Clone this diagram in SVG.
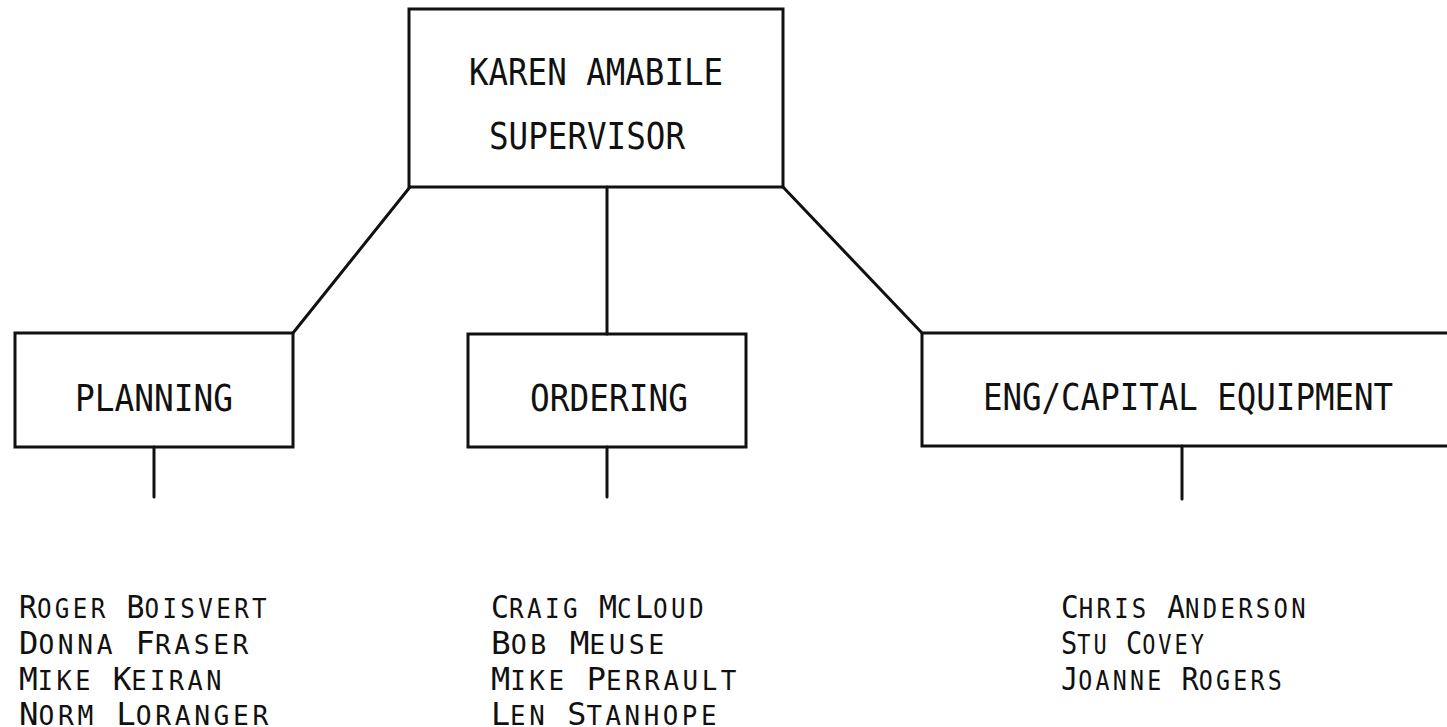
<svg xmlns="http://www.w3.org/2000/svg" width="1447" height="727" viewBox="0 0 1447 727">
<style>
  .bg { fill: #ffffff; }
  .box { fill: none; stroke: #111; stroke-width: 3; }
  .conn line { stroke: #111; stroke-width: 3; stroke-linecap: round; }
  .t { font-family: "DejaVu Sans Mono", "Liberation Mono", monospace; font-size: 38px; fill: #111; }
  .n { font-family: "DejaVu Sans Mono", "Liberation Mono", monospace; font-size: 32px; fill: #111; }
  .s { font-size: 26px; letter-spacing: 3.6px; }
</style>
<rect class="bg" x="0" y="0" width="1447" height="727"/>
<g id="connectors" class="conn">
  <line x1="410" y1="187" x2="293" y2="333"/>
  <line x1="607" y1="187" x2="607" y2="334"/>
  <line x1="783" y1="187" x2="922" y2="333"/>
  <line x1="154" y1="447" x2="154" y2="497"/>
  <line x1="607" y1="447" x2="607" y2="497"/>
  <line x1="1182" y1="446" x2="1182" y2="499"/>
</g>
<g id="supervisor">
  <rect class="box" x="409" y="9" width="374" height="178"/>
  <text class="t" x="469" y="85" textLength="254" lengthAdjust="spacingAndGlyphs">KAREN AMABILE</text>
  <text class="t" x="489" y="149" textLength="196" lengthAdjust="spacingAndGlyphs">SUPERVISOR</text>
</g>
<g id="planning">
  <rect class="box" x="15" y="333" width="278" height="114"/>
  <text class="t" x="75" y="411" textLength="158" lengthAdjust="spacingAndGlyphs">PLANNING</text>
</g>
<g id="ordering">
  <rect class="box" x="468" y="334" width="278" height="113"/>
  <text class="t" x="530" y="411" textLength="158" lengthAdjust="spacingAndGlyphs">ORDERING</text>
</g>
<g id="eng-capital">
  <rect class="box" x="922" y="333" width="540" height="113"/>
  <text class="t" x="983" y="410" textLength="410" lengthAdjust="spacingAndGlyphs">ENG/CAPITAL EQUIPMENT</text>
</g>
<g id="planning-staff">
  <text class="n" x="19" y="618" textLength="251" lengthAdjust="spacingAndGlyphs">R<tspan class="s">OGER</tspan> B<tspan class="s">OISVERT</tspan></text>
  <text class="n" x="19" y="654" textLength="233" lengthAdjust="spacingAndGlyphs">D<tspan class="s">ONNA</tspan> F<tspan class="s">RASER</tspan></text>
  <text class="n" x="19" y="690" textLength="206" lengthAdjust="spacingAndGlyphs">M<tspan class="s">IKE</tspan> K<tspan class="s">EIRAN</tspan></text>
  <text class="n" x="19" y="725" textLength="253" lengthAdjust="spacingAndGlyphs">N<tspan class="s">ORM</tspan> L<tspan class="s">ORANGER</tspan></text>
</g>
<g id="ordering-staff">
  <text class="n" x="491" y="618" textLength="216" lengthAdjust="spacingAndGlyphs">C<tspan class="s">RAIG</tspan> M<tspan class="s">C</tspan>L<tspan class="s">OUD</tspan></text>
  <text class="n" x="491" y="654" textLength="177" lengthAdjust="spacingAndGlyphs">B<tspan class="s">OB</tspan> M<tspan class="s">EUSE</tspan></text>
  <text class="n" x="491" y="690" textLength="249" lengthAdjust="spacingAndGlyphs">M<tspan class="s">IKE</tspan> P<tspan class="s">ERRAULT</tspan></text>
  <text class="n" x="491" y="725" textLength="229" lengthAdjust="spacingAndGlyphs">L<tspan class="s">EN</tspan> S<tspan class="s">TANHOPE</tspan></text>
</g>
<g id="eng-staff">
  <text class="n" x="1061" y="618" textLength="248" lengthAdjust="spacingAndGlyphs">C<tspan class="s">HRIS</tspan> A<tspan class="s">NDERSON</tspan></text>
  <text class="n" x="1061" y="654" textLength="146" lengthAdjust="spacingAndGlyphs">S<tspan class="s">TU</tspan> C<tspan class="s">OVEY</tspan></text>
  <text class="n" x="1061" y="690" textLength="224" lengthAdjust="spacingAndGlyphs">J<tspan class="s">OANNE</tspan> R<tspan class="s">OGERS</tspan></text>
</g>
</svg>
